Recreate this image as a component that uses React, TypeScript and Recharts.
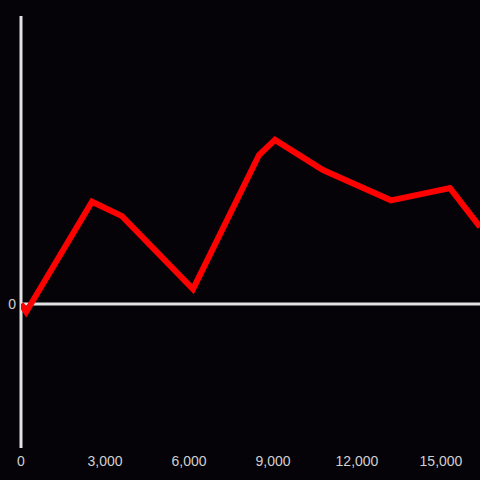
import React from 'react';
import { LineChart, Line, XAxis, YAxis, ReferenceLine } from 'recharts';

const distances = [0, 185, 2536, 3607, 6143, 8500, 9071, 10786, 13214, 15321, 16393];
const values = [0, -5.5, 71, 61, 10.4, 103.5, 114, 93, 72, 80.5, 53.5];
const xTicks = [0, 3000, 6000, 9000, 12000, 15000];
const yTicks = [0];

const data = distances.map((d, i) => ({ x: d, y: values[i] }));
const fmt = (v: number) => v.toLocaleString('en-US');

export default function App() {
  return (
    <div style={{ position: 'absolute', left: 0, top: 0, width: 480, height: 480, background: '#050307' }}>
      <LineChart width={480} height={480} data={data} margin={{ top: 16, right: 0, bottom: 0, left: 0 }}>
        <XAxis
          type="number"
          dataKey="x"
          domain={[0, 16393]}
          ticks={xTicks}
          tickFormatter={fmt}
          axisLine={false}
          tickLine={false}
          height={32}
          tick={{ fill: '#d0d0d0', fontSize: 14, fontFamily: 'Liberation Sans, Arial, sans-serif' }}
          allowDataOverflow
        />
        <YAxis
          type="number"
          domain={[-100, 200]}
          ticks={yTicks}
          axisLine={false}
          tickLine={false}
          width={21}
          tickSize={0}
          tickMargin={5}
          tick={{ fill: '#d0d0d0', fontSize: 14, fontFamily: 'Liberation Sans, Arial, sans-serif' }}
          allowDataOverflow
        />
        <ReferenceLine x={0} stroke="#e2e2e2" strokeWidth={3} />
        <ReferenceLine y={0} stroke="#e2e2e2" strokeWidth={3} />
        <Line
          type="linear"
          dataKey="y"
          stroke="#ff0000"
          strokeWidth={6}
          dot={false}
          isAnimationActive={false}
        />
      </LineChart>
    </div>
  );
}
